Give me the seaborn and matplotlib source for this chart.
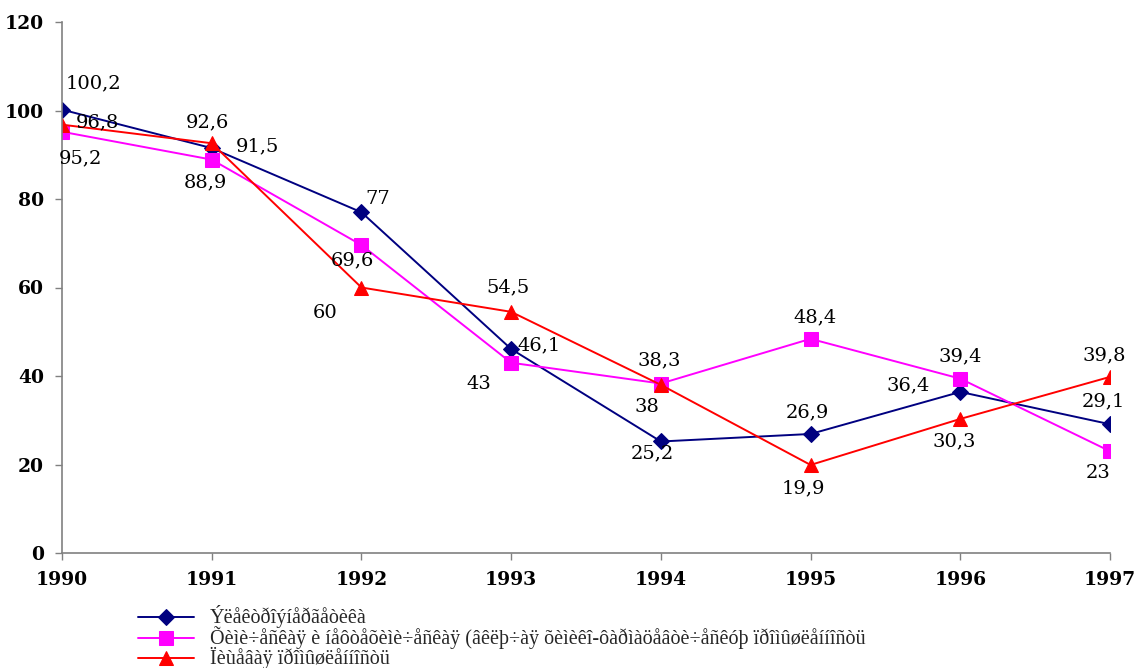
import matplotlib
matplotlib.use("Agg")
import matplotlib.pyplot as plt
import seaborn as sns
import pandas as pd

years = [1990, 1991, 1992, 1993, 1994, 1995, 1996, 1997]
electro = [100.2, 91.5, 77, 46.1, 25.2, 26.9, 36.4, 29.1]
chem = [95.2, 88.9, 69.6, 43, 38.3, 48.4, 39.4, 23]
food = [96.8, 92.6, 60, 54.5, 38, 19.9, 30.3, 39.8]

series_names = [
    "Ýëåêòðîýíåðãåòèêà",
    "Õèìè÷åñêàÿ è íåôòåõèìè÷åñêàÿ (âêëþ÷àÿ õèìèêî-ôàðìàöåâòè÷åñêóþ ïðîìûøëåííîñòü",
    "Ïèùåâàÿ ïðîìûøëåííîñòü",
]
y_ticks = [0, 20, 40, 60, 80, 100, 120]

# label offsets in pixels (dx, dy)
off_electro = [(31, 26), (46, 2), (16, 13), (28, 4), (-9, -12), (-3, 22), (-52, 7), (-7, 23)]
off_chem = [(18, -27), (-6, -23), (-9, -15), (-32, -21), (-2, 23), (4, 21), (0, 22), (-12, -22)]
off_food = [(35, 2), (-4, 21), (-36, -25), (-3, 24), (-14, -22), (-7, -23), (-6, -22), (-6, 22)]

sns.set_style("ticks")
plt.rcParams["font.family"] = ["DejaVu Serif"]

fig = plt.figure(figsize=(11.38, 6.68), dpi=100)
ax = fig.add_axes([62 / 1138, 1 - 553 / 668, (1110 - 62) / 1138, (553 - 22) / 668])

styles = [
    (electro, "#000080", "D", 8, off_electro),
    (chem, "#FF00FF", "s", 9.5, off_chem),
    (food, "#FF0000", "^", 10.5, off_food),
]

for (vals, col, mk, ms, offs), name in zip(styles, series_names):
    df = pd.DataFrame({"year": years, "value": vals})
    sns.lineplot(data=df, x="year", y="value", ax=ax, color=col, marker=mk,
                 markersize=ms, markeredgecolor=col, linewidth=1.4, label=name)

for vals, col, mk, ms, offs in styles:
    for x, v, (dx, dy) in zip(years, vals, offs):
        ax.annotate(f"{v:g}".replace(".", ","), (x, v), xytext=(dx, dy),
                    textcoords="offset pixels", ha="center", va="center",
                    fontsize=14, color="black", family="DejaVu Serif")

ax.set_xlim(1990, 1997)
ax.set_ylim(0, 120)
ax.set_xticks(years)
ax.set_yticks(y_ticks)
ax.set_xticklabels([str(y) for y in years], fontsize=13.5, fontweight="bold")
ax.set_yticklabels([str(t) for t in y_ticks], fontsize=13.5, fontweight="bold")
ax.set_xlabel("")
ax.set_ylabel("")
for s in ["top", "right"]:
    ax.spines[s].set_visible(False)
for s in ["left", "bottom"]:
    ax.spines[s].set_color("#808080")
    ax.spines[s].set_linewidth(1.2)
ax.tick_params(axis="both", colors="#808080", labelcolor="black", length=5, width=1)
ax.tick_params(axis="x", pad=8)
ax.tick_params(axis="y", pad=8)

ax.get_legend().remove()
handles, labels = ax.get_legend_handles_labels()
fig.legend(handles, labels, loc="upper left", bbox_to_anchor=(128 / 1138, 1 - 595 / 668),
           frameon=False, prop={"family": "Liberation Serif", "size": 14.5},
           handlelength=2.8, handletextpad=0.75, labelspacing=-0.1, handleheight=0.5,
           borderpad=0)

fig.savefig("out.png", dpi=100)
